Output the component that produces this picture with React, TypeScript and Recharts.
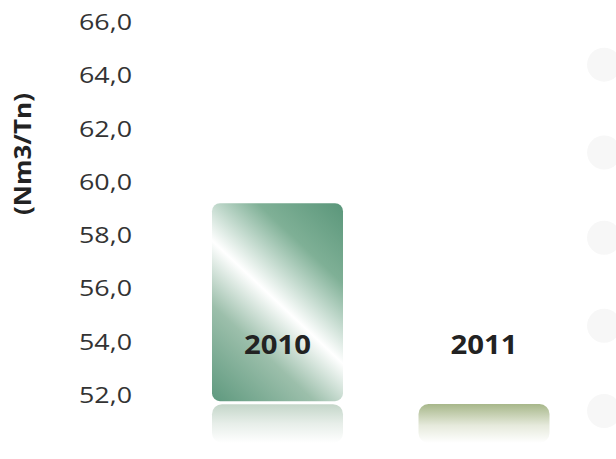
import React from 'react';
import { ComposedChart, Bar, Scatter, XAxis, YAxis } from 'recharts';

// ---- data ----
const years = ['2010', '2011'];
const values = [59.2, 51.66];
const yTicks = [52, 54, 56, 58, 60, 62, 64, 66];
const sideDotLevels = [64.4, 61.1, 57.9, 54.6, 51.4];
const sideDotX = 0.973;
const reflectionSplit = 51.77;
const labelLevel = 53.9;
const Y_MIN = 50.2;
const Y_MAX = 66;

const data = years.map((year, i) => ({ year, value: values[i] }));
const sideDots = sideDotLevels.map((v) => ({ dx: sideDotX, dy: v }));

const fmt = (v: number) => v.toFixed(1).replace('.', ',');

const Tick = (props: any) => {
  const { x, y, payload } = props;
  return (
    <text
      x={x}
      y={y}
      dy="0.36em"
      textAnchor="end"
      fill="#333333"
      fontSize={22}
      fontFamily="Open Sans"
      textLength={53}
      lengthAdjust="spacingAndGlyphs"
    >
      {fmt(payload.value)}
    </text>
  );
};

const YLabel = (props: any) => {
  const vb = props.viewBox || { x: 0, y: 0 };
  const cx = vb.x + 21;
  const cy = vb.y + 132;
  return (
    <text
      x={cx}
      y={cy}
      transform={`rotate(-90 ${cx} ${cy})`}
      textAnchor="middle"
      dominantBaseline="central"
      fill="#222"
      fontSize={24}
      fontWeight="bold"
      fontFamily="Open Sans"
      textLength={122}
      lengthAdjust="spacingAndGlyphs"
    >
      (Nm3/Tn)
    </text>
  );
};

const BarShape = (props: any) => {
  const { x, y, width, height, index, payload } = props;
  if (height == null || isNaN(height)) return null;
  const v = payload.value;
  const ppu = height / (v - Y_MIN);
  const toY = (val: number) => y + (v - val) * ppu;
  const cx = x + width / 2;
  const bottom = y + height;
  const labelY = toY(labelLevel);
  const label = (
    <text
      x={cx}
      y={labelY}
      dy="0.36em"
      textAnchor="middle"
      fill="#222"
      fontSize={26}
      fontWeight="bold"
      fontFamily="Open Sans"
      textLength={67}
      lengthAdjust="spacingAndGlyphs"
    >
      {payload.year}
    </text>
  );
  if (index === 0) {
    const ySplit = toY(reflectionSplit);
    const h = ySplit - y;
    const cy = y + h / 2;
    const nx = 0.685;
    const ny = -0.729;
    const L = Math.abs((width / 2) * nx) + Math.abs((h / 2) * ny);
    const gid = `g-main-${index}`;
    const rid = `g-refl-${index}`;
    return (
      <g>
        <defs>
          <linearGradient
            id={gid}
            gradientUnits="userSpaceOnUse"
            x1={cx + nx * L}
            y1={cy + ny * L}
            x2={cx - nx * L}
            y2={cy - ny * L}
          >
            <stop offset="0" stopColor="#5a967a" />
            <stop offset="0.25" stopColor="#7fb096" />
            <stop offset="0.5" stopColor="#ffffff" />
            <stop offset="0.7" stopColor="#9cbfab" />
            <stop offset="1" stopColor="#5e997e" />
          </linearGradient>
          <linearGradient id={rid} x1="0" y1="0" x2="0" y2="1">
            <stop offset="0" stopColor="#c4d6c9" />
            <stop offset="0.5" stopColor="#e7eee9" />
            <stop offset="1" stopColor="#ffffff" />
          </linearGradient>
        </defs>
        <rect x={x} y={y} width={width} height={h} rx={8} ry={8} fill={`url(#${gid})`} />
        <rect x={x} y={ySplit + 3} width={width} height={bottom - ySplit - 3} rx={10} ry={10} fill={`url(#${rid})`} />
        {label}
      </g>
    );
  }
  const gid = `g-other-${index}`;
  return (
    <g>
      <defs>
        <linearGradient id={gid} x1="0" y1="0" x2="0" y2="1">
          <stop offset="0" stopColor="#a7b78a" />
          <stop offset="0.55" stopColor="#e6eadc" />
          <stop offset="1" stopColor="#ffffff" />
        </linearGradient>
      </defs>
      <rect x={x} y={y} width={width} height={height} rx={10} ry={10} fill={`url(#${gid})`} />
      {label}
    </g>
  );
};

const DotShape = (props: any) => {
  const { cx, cy } = props;
  return <circle cx={cx} cy={cy} r={17} fill="#f7f7f7" />;
};

export default function App() {
  return (
    <div style={{ position: 'absolute', left: 0, top: 0, background: '#fff' }}>
      <ComposedChart
        width={616}
        height={459}
        data={data}
        margin={{ top: 22, right: 0, bottom: 16, left: 0 }}
      >
        <XAxis dataKey="year" type="category" hide padding={{ left: 0, right: 29 }} />
        <XAxis xAxisId="deco" dataKey="dx" type="number" domain={[0, 1]} hide />
        <YAxis
          width={174}
          type="number"
          domain={[Y_MIN, Y_MAX]}
          ticks={yTicks}
          interval={0}
          axisLine={false}
          tickLine={false}
          tickSize={0}
          tickMargin={42}
          tick={<Tick />}
          label={<YLabel />}
        />
        <Scatter data={sideDots} xAxisId="deco" dataKey="dy" shape={<DotShape />} isAnimationActive={false} />
        <Bar dataKey="value" barSize={131} shape={<BarShape />} isAnimationActive={false} />
      </ComposedChart>
    </div>
  );
}
